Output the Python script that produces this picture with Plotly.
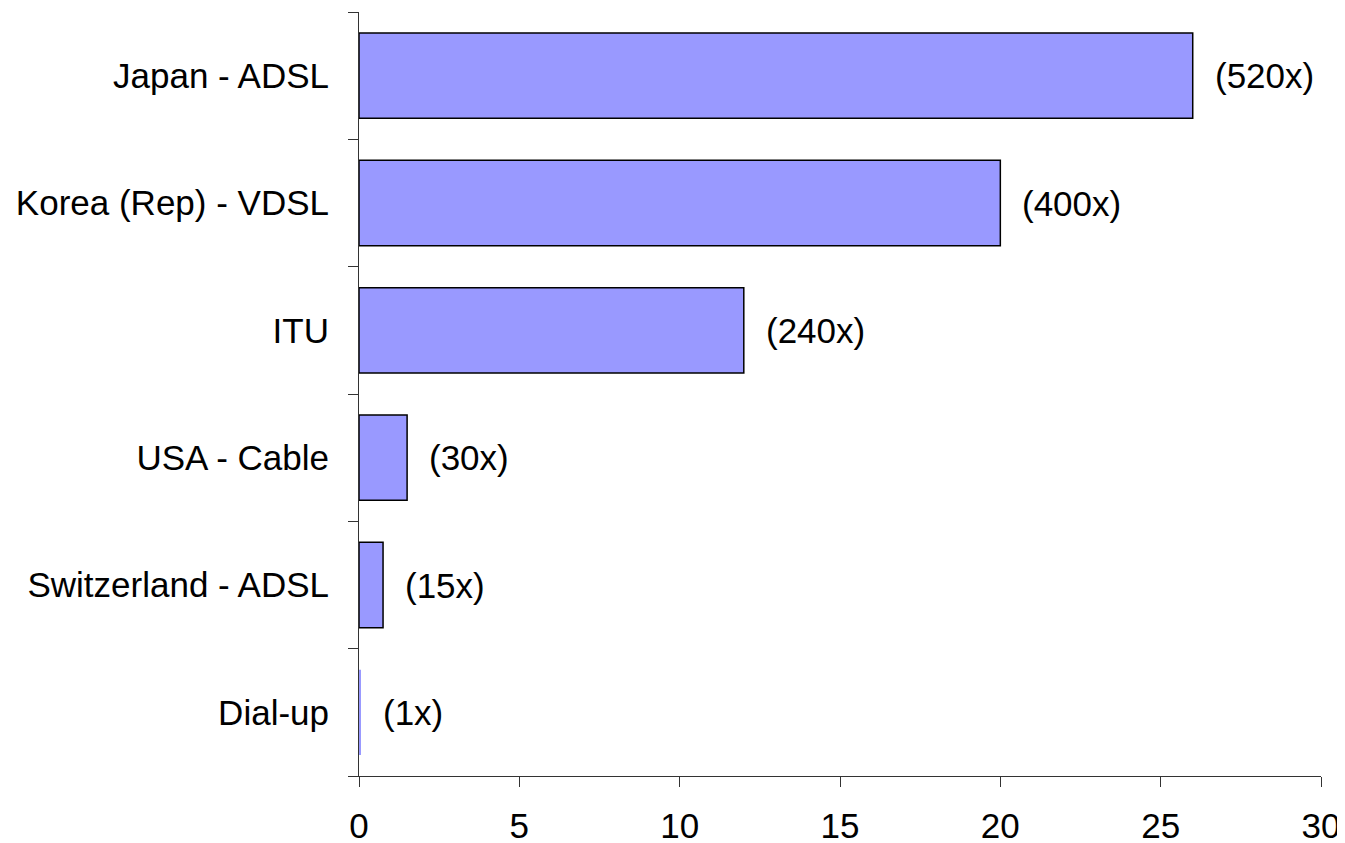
import plotly.graph_objects as go

categories = ["Japan - ADSL", "Korea (Rep) - VDSL", "ITU", "USA - Cable", "Switzerland - ADSL", "Dial-up"]
values = [26, 20, 12, 1.5, 0.75, 0.05]
labels = ["(520x)", "(400x)", "(240x)", "(30x)", "(15x)", "(1x)"]
x_ticks = [0, 5, 10, 15, 20, 25, 30]

FONT = "Liberation Sans, Arial"

fig = go.Figure()
fig.add_trace(go.Bar(
    x=values, y=categories, orientation="h",
    marker=dict(color="#9999FF",
                line=dict(color="black", width=[1.5 if v > 0.2 else 0 for v in values])),
    width=0.67, hoverinfo="skip",
))

for v, c, t in zip(values, categories, labels):
    fig.add_annotation(x=v, y=c, text=t, showarrow=False, xanchor="left", xshift=20,
                       font=dict(family=FONT, size=35, color="black"))

fig.update_layout(
    width=1345, height=843,
    margin=dict(l=351, r=32, t=4, b=75, autoexpand=False),
    paper_bgcolor="white", plot_bgcolor="white",
    showlegend=False,
    font=dict(family=FONT, size=35, color="black"),
    bargap=0.33,
)
fig.update_xaxes(
    range=[0, 30], tickvals=x_ticks, ticks="outside", ticklen=10, tickcolor="#333",
    showline=True, linecolor="#333", linewidth=1, showgrid=False, zeroline=False,
    ticklabelstandoff=9, fixedrange=True, automargin=False,
)
fig.update_yaxes(
    categoryorder="array", categoryarray=categories[::-1],
    range=[-0.5, 5.5], tickson="boundaries", ticks="outside", ticklen=10, tickcolor="#333",
    showline=True, linecolor="#333", linewidth=1, showgrid=False,
    ticklabelstandoff=22, fixedrange=True, automargin=False,
)

fig.write_html("out.html")
